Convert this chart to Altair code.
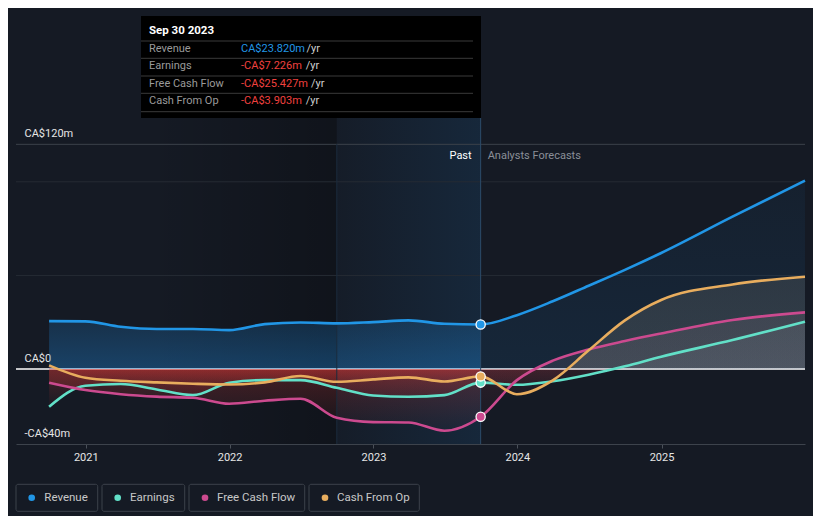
import altair as alt
import pandas as pd

# ---------------- data ----------------
series_names = ["Revenue", "Earnings", "Free Cash Flow", "Cash From Op"]
series_colors = ["#2196e6", "#62e0c8", "#cc4a8f", "#e8ad5e"]

past_dates = ["2020-09-30", "2020-12-31", "2021-03-31", "2021-06-30", "2021-09-30",
              "2021-12-31", "2022-03-31", "2022-06-30", "2022-09-30", "2022-12-31",
              "2023-03-31", "2023-06-30", "2023-09-30"]
forecast_dates = ["2023-09-30", "2023-12-31", "2024-03-31", "2024-06-30", "2024-09-30",
                  "2024-12-31", "2025-06-30", "2025-12-31"]

revenue_past = [25.6, 25.5, 22.6, 21.4, 21.4, 20.8, 24.0, 24.9, 24.4, 25.1, 26.0, 24.2, 23.82]
revenue_forecast = [23.82, 28.8, 36.2, 44.5, 53.0, 62.0, 81.4, 100.6]
earnings_past = [-20.1, -8.9, -8.0, -10.9, -13.9, -7.3, -5.9, -5.9, -10.0, -14.1, -14.8, -13.9, -7.226]
earnings_forecast = [-7.226, -8.4, -6.5, -3.0, 1.5, 6.6, 15.5, 25.3]
fcf_past = [-7.3, -11.2, -13.4, -14.7, -15.3, -18.5, -16.9, -15.8, -26.0, -28.3, -28.5, -32.9, -25.427]
fcf_forecast = [-25.427, -5.9, 4.5, 10.5, 15.0, 19.0, 26.2, 30.3]
cfo_past = [2.0, -4.6, -6.2, -7.1, -7.8, -8.2, -7.1, -3.7, -6.8, -5.5, -4.4, -6.6, -3.903]
cfo_forecast = [-3.903, -13.4, -6.0, 10.0, 26.0, 36.9, 45.2, 49.3]

past_values = [revenue_past, earnings_past, fcf_past, cfo_past]
forecast_values = [revenue_forecast, earnings_forecast, fcf_forecast, cfo_forecast]

tooltip_date = "Sep 30 2023"
tooltip_values = ["CA$23.820m", "-CA$7.226m", "-CA$25.427m", "-CA$3.903m"]
y_tick_values = [120, 0, -40]
grid_major = [120]
grid_minor = [100, 50]
year_ticks = [2021, 2022, 2023, 2024, 2025]
highlight_start = "2022-09-30"
now_date = "2023-09-30"
domain_start = "2020-07-08"
domain_end = "2025-12-31"

# ---------------- tables ----------------
rows = []
for name, pv, fv in zip(series_names, past_values, forecast_values):
    for d, v in zip(past_dates, pv):
        rows.append({"date": d, "value": v, "series": name, "phase": "past"})
    for d, v in zip(forecast_dates, fv):
        rows.append({"date": d, "value": v, "series": name, "phase": "forecast"})
df = pd.DataFrame(rows)
line_df = df.drop_duplicates(["date", "series"]).reset_index(drop=True)
pts_df = df[(df["date"] == now_date) & (df["phase"] == "past")].reset_index(drop=True)


def ms(d):
    return int(pd.Timestamp(d, tz="UTC").value // 10**6)


FONT = "Roboto"
x_scale = alt.Scale(type="utc", domain=[ms(domain_start), ms(domain_end)])
y_scale = alt.Scale(domain=[-40, 192.8], nice=False, zero=False)
color_scale = alt.Scale(domain=series_names, range=series_colors)

x_axis = alt.Axis(title=None, values=[alt.DateTime(year=y, month=1, date=1, utc=True) for y in year_ticks],
                  format="%Y", grid=False, domainColor="#3d434c", domainWidth=1.2,
                  tickColor="#4a5059", tickSize=4, labelColor="#e6e6e6", labelFontSize=11,
                  labelFont=FONT, labelPadding=3)
y_axis = alt.Axis(title=None, values=y_tick_values,
                  labelExpr="datum.value == 0 ? 'CA$0' : (datum.value > 0 ? 'CA$' + datum.value + 'm' : '-CA$' + abs(datum.value) + 'm')",
                  grid=False, domain=False, ticks=False, tickSize=0, labelAlign="left",
                  labelBaseline="alphabetic", labelOffset=-8, labelPadding=0, offset=-8,
                  labelColor="#e6e6e6", labelFontSize=11, labelFont=FONT)

X = alt.X("date:T", scale=x_scale, axis=x_axis)
Y = alt.Y("value:Q", scale=y_scale, axis=y_axis)
one = pd.DataFrame({"k": [0]})

layers = []

# darkening toward the highlight band
dark_df = pd.DataFrame({"start": [past_dates[0]], "end": [highlight_start]})
layers.append(alt.Chart(dark_df).mark_rect(
    fill=alt.Gradient(gradient="linear", x1=0, x2=1, y1=0, y2=0, stops=[
        alt.GradientStop(offset=0, color="rgba(0,0,0,0)"),
        alt.GradientStop(offset=0.35, color="rgba(0,0,0,0)"),
        alt.GradientStop(offset=1, color="rgba(0,0,0,0.25)")])
).encode(x=alt.X("start:T", scale=x_scale, axis=x_axis), x2="end:T",
         y=alt.value(110), y2=alt.value(436)))

# highlight band (last 12 months)
band_df = pd.DataFrame({"start": [highlight_start], "end": [now_date]})
layers.append(alt.Chart(band_df).mark_rect(
    fill=alt.Gradient(gradient="linear", x1=0, x2=1, y1=0, y2=0, stops=[
        alt.GradientStop(offset=0, color="rgba(33,150,243,0.02)"),
        alt.GradientStop(offset=1, color="rgba(33,150,243,0.11)")])
).encode(x=alt.X("start:T", scale=x_scale, axis=x_axis), x2="end:T",
         y=alt.value(110), y2=alt.value(436)))

# gridlines
layers.append(alt.Chart(pd.DataFrame({"value": grid_major})).mark_rule(color="#3b414a", strokeWidth=1)
              .encode(y=Y))
layers.append(alt.Chart(pd.DataFrame({"value": grid_minor})).mark_rule(color="#252b34", strokeWidth=1)
              .encode(y=Y))
# zero line
layers.append(alt.Chart(pd.DataFrame({"value": [0]})).mark_rule(color="#ffffff", strokeWidth=1.5)
              .encode(y=Y))


def rgba(rgb, a):
    return f"rgba({rgb[0]},{rgb[1]},{rgb[2]},{a})"


def grad(vals, pos_rgb, pos_a, neg_rgb, neg_a):
    top = max(max(vals), 0)
    bot = min(min(vals), 0)
    z = top / (top - bot)
    stops = []
    if z > 0:
        stops.append(alt.GradientStop(offset=0, color=rgba(pos_rgb, pos_a[0])))
        stops.append(alt.GradientStop(offset=z, color=rgba(pos_rgb, pos_a[1])))
    if z < 1:
        stops.append(alt.GradientStop(offset=z, color=rgba(neg_rgb, neg_a[0])))
        stops.append(alt.GradientStop(offset=1, color=rgba(neg_rgb, neg_a[1])))
    return alt.Gradient(gradient="linear", x1=0, x2=0, y1=0, y2=1, stops=stops)


blue = (33, 150, 243)
red = (229, 57, 53)
forecast_tints = [(33, 150, 243), (208, 240, 255), (240, 192, 216), (240, 224, 192)]
forecast_alpha = [(0.05, 0.1), (0.06, 0.07), (0.08, 0.09), (0.11, 0.13)]

for i, name in enumerate(series_names):
    pv = past_values[i]
    if i == 0:
        g = grad(pv, blue, (0.18, 0.32), red, (0.25, 0.02))
    else:
        g = grad(pv, red, (0.1, 0.25), red, (0.25, 0.02))
    sub = df[(df["series"] == name) & (df["phase"] == "past")]
    layers.append(alt.Chart(sub).mark_area(interpolate="monotone", fill=g)
                  .encode(x=X, y=Y, y2=alt.datum(0)))
for i, name in enumerate(series_names):
    fv = forecast_values[i]
    g = grad(fv, forecast_tints[i], forecast_alpha[i], (200, 60, 70), (0.12, 0.04))
    sub = df[(df["series"] == name) & (df["phase"] == "forecast")]
    layers.append(alt.Chart(sub).mark_area(interpolate="monotone", fill=g)
                  .encode(x=X, y=Y, y2=alt.datum(0)))

# vertical markers
layers.append(alt.Chart(pd.DataFrame({"date": [highlight_start]})).mark_rule(color="#1b2c3d", strokeWidth=1)
              .encode(x=X, y=alt.value(136), y2=alt.value(436)))
layers.append(alt.Chart(pd.DataFrame({"date": [now_date]})).mark_rule(color="#2c4b69", strokeWidth=1)
              .encode(x=X, y=alt.value(110), y2=alt.value(436)))

# lines
layers.append(alt.Chart(line_df).mark_line(interpolate="monotone", strokeWidth=2.6).encode(
    x=X, y=Y, color=alt.Color("series:N", scale=color_scale, legend=None), order="date:T"))

# current points
layers.append(alt.Chart(pts_df).mark_point(filled=True, size=85, stroke="#ffffff", strokeWidth=1.3,
                                            opacity=1, shape="circle").encode(
    x=X, y=Y, fill=alt.Fill("series:N", scale=color_scale, legend=None)))

# Past / Analysts Forecasts labels
now_df = pd.DataFrame({"date": [now_date]})
layers.append(alt.Chart(now_df).mark_text(text="Past", align="right", baseline="middle", dx=-9,
                                          color="#ffffff", fontSize=11, font=FONT)
              .encode(x=X, y=alt.value(148)))
layers.append(alt.Chart(now_df).mark_text(text="Analysts Forecasts", align="left", baseline="middle", dx=7,
                                          color="#8a8f98", fontSize=11, font=FONT)
              .encode(x=X, y=alt.value(148)))

# tooltip box
layers.append(alt.Chart(one).mark_rect(fill="#000000").encode(
    x=alt.value(125), x2=alt.value(465), y=alt.value(8), y2=alt.value(110)))
for yy in [33, 50.3, 68, 85.3, 103.7]:
    layers.append(alt.Chart(one).mark_rule(color="#3a3a3a", strokeWidth=1).encode(
        x=alt.value(125), x2=alt.value(457), y=alt.value(yy)))
layers.append(alt.Chart(one).mark_text(text=tooltip_date, align="left", baseline="middle", color="#ffffff",
                                       fontSize=11.5, fontWeight="bold", font=FONT)
              .encode(x=alt.value(133), y=alt.value(23)))
row_y = [41, 58, 76, 93]
yr_x = [290.5, 289.7, 295, 289.7]
value_colors = ["#2196e6", "#f0413f", "#f0413f", "#f0413f"]
for name, val, yy, yx, vc in zip(series_names, tooltip_values, row_y, yr_x, value_colors):
    layers.append(alt.Chart(one).mark_text(text=name, align="left", baseline="middle", color="#9a9a9a",
                                           fontSize=11, font=FONT)
                  .encode(x=alt.value(133), y=alt.value(yy)))
    layers.append(alt.Chart(one).mark_text(text=val, align="left", baseline="middle", color=vc,
                                           fontSize=11, font=FONT)
                  .encode(x=alt.value(225), y=alt.value(yy)))
    layers.append(alt.Chart(one).mark_text(text="/yr", align="left", baseline="middle", color="#cfcfcf",
                                           fontSize=11, font=FONT)
                  .encode(x=alt.value(yx), y=alt.value(yy)))

# legend boxes
box_x = [(0, 81.7), (86, 168.7), (173, 288.7), (293, 403.3)]
dot_x = [15.7, 101.7, 189, 309]
txt_x = [28.3, 114, 201, 321]
for name, col, (bx0, bx1), dx, tx in zip(series_names, series_colors, box_x, dot_x, txt_x):
    layers.append(alt.Chart(one).mark_rect(fill="#151a24", stroke="#3c424b", strokeWidth=1,
                                           cornerRadius=2).encode(
        x=alt.value(bx0), x2=alt.value(bx1), y=alt.value(476.3), y2=alt.value(503.3)))
    layers.append(alt.Chart(one).mark_point(filled=True, shape="circle", size=44, color=col, opacity=1)
                  .encode(x=alt.value(dx), y=alt.value(489.8)))
    layers.append(alt.Chart(one).mark_text(text=name, align="left", baseline="middle", color="#c8c8c8",
                                           fontSize=11.5, font=FONT)
                  .encode(x=alt.value(tx), y=alt.value(489.8)))

chart = alt.layer(*layers).properties(
    width=789, height=436,
    padding={"left": 8, "top": 0, "right": 8, "bottom": 72},
    autosize=alt.AutoSizeParams(type="none"),
    background="#151a24",
).configure_view(stroke=None)

chart.save("out.html", embed_options={"renderer": "svg", "actions": False})
